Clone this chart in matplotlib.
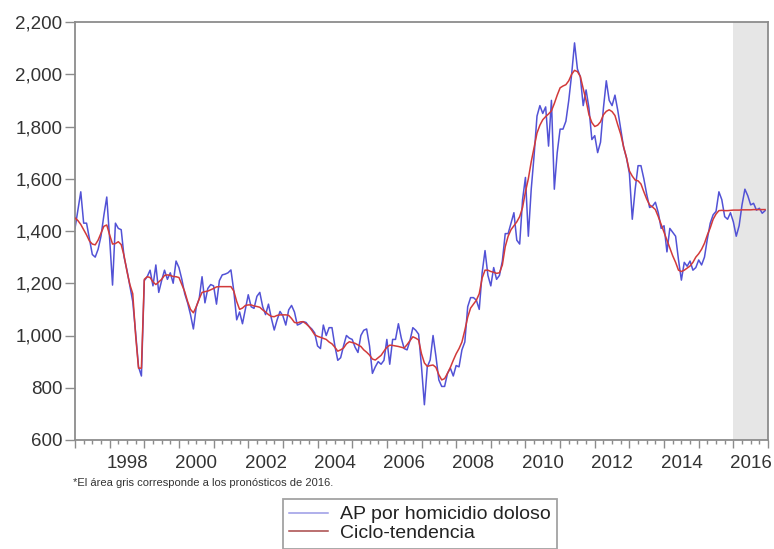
import matplotlib
matplotlib.use("Agg")
import matplotlib.pyplot as plt
import numpy as np

plt.rcParams["font.family"] = ["Liberation Sans", "DejaVu Sans"]

start_year = 1997
label_years = [1998, 2000, 2002, 2004, 2006, 2008, 2010, 2012, 2014, 2016]
y_ticks = [600, 800, 1000, 1200, 1400, 1600, 1800, 2000, 2200]
forecast_span = [2016, 2017]

# AP por homicidio doloso, mensual (ene-1997 .. dic-2016)
ap_homicidio = [
    1410, 1480, 1550, 1430, 1430, 1370, 1310, 1300, 1330, 1380, 1460, 1530,  # 1997
    1370, 1193, 1430, 1410, 1405, 1300, 1250, 1190, 1130, 1010, 880, 845,    # 1998
    1210, 1225, 1250, 1190, 1270, 1165, 1210, 1250, 1215, 1240, 1200, 1285,  # 1999
    1260, 1215, 1160, 1125, 1080, 1025, 1110, 1140, 1225, 1125, 1180, 1195,  # 2000
    1190, 1120, 1210, 1232, 1235, 1240, 1251, 1170, 1060, 1090, 1045, 1100,  # 2001
    1156, 1110, 1104, 1150, 1165, 1110, 1080, 1120, 1066, 1021, 1060, 1092,  # 2002
    1075, 1040, 1098, 1115, 1090, 1040, 1045, 1053, 1050, 1035, 1025, 1010,  # 2003
    960, 950, 1040, 1000, 1030, 1030, 960, 905, 915, 960, 1000, 990,         # 2004
    985, 955, 935, 1000, 1020, 1025, 960, 855, 880, 900, 890, 905,           # 2005
    985, 890, 985, 985, 1045, 990, 950, 945, 980, 1030, 1020, 1005,          # 2006
    880, 735, 880, 906, 1000, 920, 830, 805, 805, 855, 875, 845,             # 2007
    885, 880, 945, 975, 1110, 1145, 1145, 1135, 1100, 1240, 1325, 1230,      # 2008
    1190, 1260, 1215, 1230, 1285, 1390, 1390, 1430, 1470, 1365, 1350, 1520,  # 2009
    1605, 1380, 1560, 1690, 1840, 1880, 1850, 1875, 1725, 1900, 1560, 1700,  # 2010
    1790, 1790, 1820, 1900, 2000, 2120, 2020, 1990, 1880, 1940, 1870, 1750,  # 2011
    1765, 1700, 1740, 1870, 1975, 1900, 1880, 1920, 1860, 1790, 1720, 1680,  # 2012
    1620, 1445, 1560, 1650, 1650, 1600, 1540, 1490, 1495, 1510, 1470, 1410,  # 2013
    1420, 1320, 1410, 1395, 1380, 1290, 1212, 1280, 1265, 1285, 1250, 1260,  # 2014
    1289, 1270, 1300, 1370, 1430, 1462, 1475, 1550, 1520, 1455, 1445, 1470,  # 2015
    1435, 1380, 1420, 1500, 1560, 1535, 1500, 1506, 1480, 1487, 1468, 1478,  # 2016
]

# Ciclo-tendencia, mensual
ciclo_tendencia = [
    1450, 1440, 1425, 1405, 1385, 1362, 1350, 1347, 1365, 1392, 1418, 1423,  # 1997
    1385, 1350, 1352, 1359, 1348, 1305, 1245, 1195, 1160, 1000, 875, 875,    # 1998
    1215, 1225, 1222, 1205, 1195, 1205, 1215, 1230, 1232, 1230, 1226, 1225,  # 1999
    1222, 1195, 1168, 1130, 1100, 1087, 1110, 1140, 1165, 1168, 1170, 1175,  # 2000
    1180, 1186, 1187, 1187, 1187, 1187, 1187, 1170, 1130, 1100, 1105, 1115,  # 2001
    1117, 1117, 1113, 1111, 1108, 1098, 1090, 1080, 1073, 1072, 1077, 1079,  # 2002
    1079, 1079, 1077, 1065, 1050, 1048, 1052, 1053, 1045, 1035, 1020, 1003,  # 2003
    997, 993, 989, 985, 975, 968, 955, 940, 945, 952, 968, 976,              # 2004
    973, 970, 964, 958, 945, 936, 925, 910, 906, 915, 924, 940,              # 2005
    955, 963, 962, 960, 958, 955, 952, 965, 980, 995, 990, 983,              # 2006
    930, 895, 882, 885, 887, 878, 850, 830, 835, 855, 878, 905,              # 2007
    930, 950, 975, 1020, 1070, 1105, 1120, 1135, 1160, 1220, 1250, 1250,     # 2008
    1245, 1242, 1238, 1240, 1270, 1340, 1380, 1405, 1420, 1435, 1455, 1490,  # 2009
    1550, 1600, 1665, 1720, 1775, 1805, 1826, 1838, 1848, 1860, 1888, 1920,  # 2010
    1948, 1955, 1960, 1975, 2000, 2015, 2010, 1992, 1945, 1900, 1845, 1815,  # 2011
    1800, 1805, 1818, 1845, 1858, 1864, 1857, 1842, 1805, 1770, 1722, 1680,  # 2012
    1630, 1610, 1595, 1592, 1580, 1550, 1522, 1500, 1492, 1482, 1455, 1425,  # 2013
    1395, 1365, 1336, 1305, 1280, 1250, 1245, 1250, 1258, 1266, 1280, 1300,  # 2014
    1313, 1330, 1353, 1385, 1412, 1445, 1465, 1478, 1479, 1478, 1478, 1479,  # 2015
    1480, 1480, 1480, 1481, 1481, 1481, 1481, 1482, 1482, 1482, 1482, 1482,  # 2016
]

fechas = start_year + np.arange(len(ap_homicidio)) / 12.0

fig = plt.figure(figsize=(7.74, 5.49), dpi=100)
ax = fig.add_axes([75 / 774, 1 - 440 / 549, 693 / 774, 418 / 549])

ax.axvspan(forecast_span[0], forecast_span[1], color="#e6e6e6", lw=0, zorder=0)
ax.plot(fechas, ap_homicidio, color="#5252d6", lw=1.1, label="AP por homicidio doloso", zorder=2)
ax.plot(fechas, ciclo_tendencia, color="#d23a3a", lw=1.1, label="Ciclo-tendencia", zorder=3)

ax.set_xlim(start_year, start_year + 20)
ax.set_ylim(y_ticks[0], y_ticks[-1])
ax.set_yticks(y_ticks)
ax.set_yticklabels([f"{v:,}" for v in y_ticks])

ax.set_xticks(np.arange(start_year, start_year + 21))
ax.set_xticklabels([])
ax.set_xticks(np.arange(start_year, start_year + 20.01, 0.25), minor=True)
for yr in label_years:
    ax.text(yr + 0.5, -0.035, str(yr), transform=ax.get_xaxis_transform(),
            ha="center", va="top", fontsize=13.5, color="#333333")

ax.tick_params(axis="y", direction="out", length=7, width=1, colors="#8c8c8c",
               labelcolor="#333333", labelsize=13.5, pad=2)
ax.tick_params(axis="x", which="major", direction="out", length=6, width=1, colors="#8c8c8c")
ax.tick_params(axis="x", which="minor", direction="out", length=3, width=1, colors="#8c8c8c")
for s in ax.spines.values():
    s.set_color("#8c8c8c")
    s.set_linewidth(1.3)

fig.text(73 / 774, 1 - 483 / 549, "*El área gris corresponde a los pronósticos de 2016.",
         fontsize=8, color="#333333", ha="left", va="center")

leg = fig.legend(loc="upper center", bbox_to_anchor=(420 / 774, 1 - 499 / 549),
                 fontsize=14, frameon=True, fancybox=False, edgecolor="#8c8c8c",
                 handlelength=2.0, handletextpad=0.6, labelspacing=0.05,
                 borderpad=0.35, borderaxespad=0)
leg.get_frame().set_linewidth(1.3)
leg.get_lines()[0].set_color("#9a9ae6")
leg.get_lines()[1].set_color("#a84848")
for t in leg.get_texts():
    t.set_color("#222222")

fig.savefig("out.png", dpi=100)
